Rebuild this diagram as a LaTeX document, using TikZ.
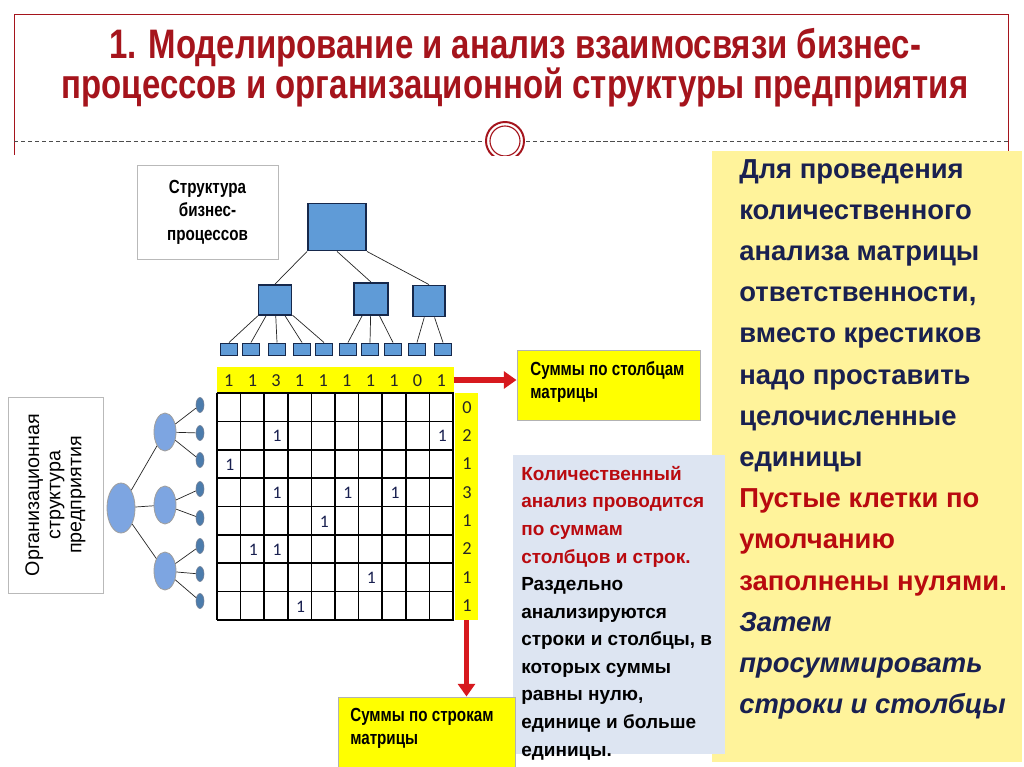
\documentclass[tikz,border=0pt]{standalone}
\usepackage{fontspec}
\setmainfont{Liberation Sans}
\newfontfamily\narrowfont[FakeStretch=0.8]{Liberation Sans}
\newfontfamily\calfont{Carlito}
\usetikzlibrary{arrows.meta,shapes.geometric}
\definecolor{titlered}{RGB}{165,20,28}
\definecolor{textnavy}{RGB}{25,32,80}
\definecolor{textred}{RGB}{185,10,15}
\definecolor{paleyellow}{RGB}{255,243,155}
\definecolor{brightyellow}{RGB}{255,255,0}
\definecolor{paleblue}{RGB}{221,229,242}
\definecolor{procblue}{RGB}{95,155,215}
\definecolor{procedge}{RGB}{22,40,75}
\definecolor{orgblue}{RGB}{125,165,225}
\definecolor{arrowred}{RGB}{215,25,30}
\newcommand{\pxu}{0.025cm}
\tikzset{
  procbox/.style={draw=procedge, fill=procblue, line width=1.3pt, inner sep=0pt},
  leafbox/.style={procbox, minimum width=17*\pxu, minimum height=12*\pxu, line width=0.7pt},
  orgnode/.style={ellipse, draw=gray!75, fill=orgblue, inner sep=0pt, line width=0.6pt},
  orgleaf/.style={ellipse, draw=procedge!60, fill=procblue!80!black, inner sep=0pt,
    minimum width=8*\pxu, minimum height=15*\pxu},
  link/.style={draw=black!85, line width=0.5pt},
  gridline/.style={draw=black, line width=1.1pt},
  cellnum/.style={font=\calfont\fontsize{12.5}{12.5}\selectfont, text=textnavy, inner sep=0pt},
  sumnum/.style={font=\calfont\fontsize{13}{13}\selectfont, text=black!85, inner sep=0pt},
  labelbox/.style={draw=gray!55, fill=white, line width=0.7pt},
  sumbox/.style={draw=gray!60, fill=brightyellow, line width=0.7pt},
  sumtext/.style={anchor=north west, align=left, inner sep=0pt,
    font=\narrowfont\bfseries\fontsize{13.5}{16.3}\selectfont},
  redarrow/.style={draw=arrowred, line width=4pt, -{Triangle[length=9pt,width=12pt]}}
}
\begin{document}
\begin{tikzpicture}[x=0.025cm, y=-0.025cm]
\useasboundingbox (0,0) rectangle (1024,767);
\fill[white] (0,0) rectangle (1024,767);

% title frame
\draw[titlered, line width=0.6pt] (14,155) -- (14,14) -- (1008,14) -- (1008,155);
\draw[black!70, densely dashed, line width=0.5pt] (14,141) -- (484,141);
\draw[black!70, densely dashed, line width=0.5pt] (526,141) -- (1008,141);
\begin{scope}
  \clip (470,110) rectangle (540,156);
  \draw[titlered, line width=1.4pt] (505,141) circle[radius=19];
  \draw[titlered, line width=0.8pt] (505,141) circle[radius=15];
\end{scope}
\node[font=\narrowfont\bfseries\fontsize{29.3}{28.5}\selectfont, text=titlered, align=center]
  (title) at (515,68) {1. Моделирование и анализ взаимосвязи бизнес-\\процессов и организационной структуры предприятия};

% right note
\fill[paleyellow] (712,151) rectangle (1022,762);
\node[anchor=north west, align=left, inner sep=0pt, text=textnavy,
  font=\bfseries\fontsize{19.5}{29.3}\selectfont] (note) at (739,159)
  {Для проведения\\количественного\\анализа матрицы\\ответственности,\\вместо крестиков\\надо проставить\\целочисленные\\единицы\\
   \textcolor{textred}{Пустые клетки по}\\\textcolor{textred}{умолчанию}\\\textcolor{textred}{заполнены нулями.}\\
   \itshape Затем\\\itshape просуммировать\\\itshape строки и столбцы};

% middle note
\fill[paleblue] (513,455) rectangle (725,754);
\node[anchor=north west, align=left, inner sep=0pt, text=black,
  font=\bfseries\fontsize{13.5}{19.6}\selectfont] (analysis) at (521,466)
  {\textcolor{textred}{Количественный}\\\textcolor{textred}{анализ проводится}\\\textcolor{textred}{по суммам}\\\textcolor{textred}{столбцов и строк.}\\
   Раздельно\\анализируются\\строки и столбцы, в\\которых суммы\\равны нулю,\\единице и больше\\единицы.};

% business process tree
\node[labelbox, minimum width=141*\pxu, minimum height=94*\pxu, align=center,
  font=\narrowfont\bfseries\fontsize{13.5}{16.8}\selectfont] (proclabel) at (207.5,212)
  {Структура\\бизнес-\\процессов};
\node[procbox, minimum width=58*\pxu, minimum height=47*\pxu] (ptop) at (337,227) {};
\node[procbox, minimum width=33*\pxu, minimum height=30*\pxu] (pm1) at (275,300) {};
\node[procbox, minimum width=34*\pxu, minimum height=32*\pxu] (pm2) at (371,299) {};
\node[procbox, minimum width=32*\pxu, minimum height=31*\pxu] (pm3) at (429,301) {};
\foreach \i/\x in {1/229,2/251,3/277,4/302,5/324,6/348,7/370,8/393,9/417,10/443}
  \node[leafbox] (pl\i) at (\x,349) {};
\draw[link] (ptop.south west) -- (pm1.north);
\draw[link] (ptop.south) -- (pm2.north);
\draw[link] (ptop.south east) -- (pm3.north);
\foreach \i in {1,...,5} \draw[link] (pm1) -- (pl\i.north);
\foreach \i in {6,7,8} \draw[link] (pm2) -- (pl\i.north);
\foreach \i in {9,10} \draw[link] (pm3) -- (pl\i.north);

% organisational tree
\node[labelbox, minimum width=95*\pxu, minimum height=196*\pxu] (orglabel) at (55.5,495) {};
\node[rotate=90, align=center, font=\fontsize{14}{15}\selectfont] at (orglabel)
  {Организационная\\структура\\предприятия};
\node[orgnode, minimum width=28*\pxu, minimum height=50*\pxu] (oroot) at (121,508) {};
\node[orgnode, minimum width=22*\pxu, minimum height=38*\pxu] (om1) at (165,432) {};
\node[orgnode, minimum width=22*\pxu, minimum height=38*\pxu] (om2) at (165,505) {};
\node[orgnode, minimum width=22*\pxu, minimum height=38*\pxu] (om3) at (165,571) {};
\foreach \i/\y in {1/405,2/433,3/460,4/489,5/518,6/546,7/574,8/601}
  \node[orgleaf] (ol\i) at (200,\y) {};
\foreach \i in {1,2,3} \draw[link] (oroot) -- (om\i);
\foreach \i in {1,2,3} \draw[link] (om1) -- (ol\i);
\foreach \i in {4,5} \draw[link] (om2) -- (ol\i);
\foreach \i in {6,7,8} \draw[link] (om3) -- (ol\i);

% responsibility matrix
\node[fill=brightyellow, minimum width=237*\pxu, minimum height=26*\pxu, inner sep=0pt] (colstrip) at (335,380) {};
\node[fill=brightyellow, minimum width=23*\pxu, minimum height=227*\pxu, inner sep=0pt] (rowstrip) at (466.5,506.5) {};
\fill[white] (217,393) rectangle (453,620);
\foreach \c in {0,...,10} \draw[gridline] (217+\c*23.6,393) -- (217+\c*23.6,620);
\foreach \r in {0,...,8} \draw[gridline] (216.5,393+\r*28.375) -- (453.5,393+\r*28.375);
\foreach \r/\c in {2/3,2/10,3/1,4/3,4/6,4/8,5/5,6/2,6/3,7/7,8/4}
  \node[cellnum] (e\r-\c) at (217+\c*23.6-10.8,393+\r*28.375-13.5) {1};
\foreach \v [count=\c] in {1,1,3,1,1,1,1,1,0,1}
  \node[sumnum] (cs\c) at (217+\c*23.6-11.8,381) {\v};
\foreach \v [count=\r] in {0,2,1,3,1,2,1,1}
  \node[sumnum] (rs\r) at (467,393+\r*28.375-14.2) {\v};

% sum boxes and arrows
\node[sumbox, minimum width=183*\pxu, minimum height=70*\pxu] (colbox) at (608.5,385) {};
\node[sumtext] at (530,361) {Суммы по столбцам\\матрицы};
\node[sumbox, minimum width=177*\pxu, minimum height=75*\pxu] (rowbox) at (426.5,734.5) {};
\node[sumtext] at (350,708) {Суммы по строкам\\матрицы};
\draw[redarrow] (colstrip.east) -- (colstrip.east -| colbox.west);
\draw[redarrow] (rowstrip.south) -- (rowstrip.south |- rowbox.north);
\end{tikzpicture}
\end{document}
